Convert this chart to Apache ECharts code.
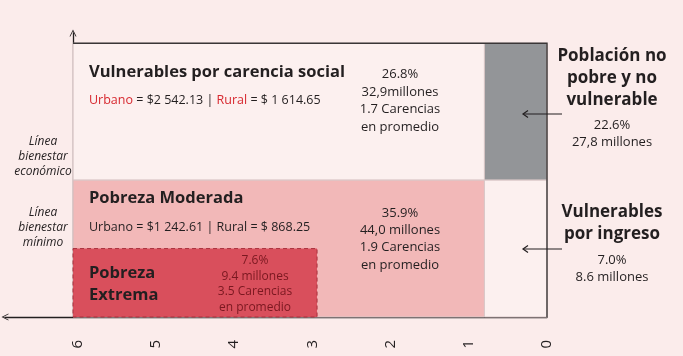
<!DOCTYPE html>
<html>
<head>
<meta charset="utf-8"/>
<title>Pobreza multidimensional</title>
<script src="https://cdn.jsdelivr.net/npm/echarts@6/dist/echarts.min.js"></script>
<style>
    html, body { margin: 0; padding: 0; background: #fbeceb; }
    #main { width: 683px; height: 356px; }
</style>
</head>
<body>
<div id="main"></div>
<script>
// eje x: número de carencias sociales (invertido), eje y: ingreso
var zonas = ['Vulnerables por carencia social', 'Población no pobre y no vulnerable', 'Pobreza Moderada', 'Vulnerables por ingreso', 'Pobreza Extrema'];
var carenciaDesde = [0.8, 0, 0.8, 0, 2.94];
var carenciaHasta = [6.06, 0.8, 6.06, 0.8, 6.06];
var ingresoDesde = [2, 2, 0, 0, 0];
var ingresoHasta = [4, 4, 2, 2, 1];
var porcentaje = ['26.8%', '22.6%', '35.9%', '7.0%', '7.6%'];
var millones = ['32,9millones', '27,8 millones', '44,0 millones', '8.6 millones', '9.4 millones'];
var carenciasProm = ['1.7', null, '1.9', null, '3.5'];
var lineaUrbano = ['$2 542.13', '$1 242.61'];
var lineaRural = ['$ 1 614.65', '$ 868.25'];

var colores = ['#fcf0ef', '#939598', '#f2b8b8', '#fcf0ef', '#d94f5c'];
var TXT = '#231f20';
var FONT = '"Open Sans", sans-serif';
var PUNTA = 'path://M0,10 L5,0 L10,10 L8.8,10 L5,2.6 L1.2,10 Z';

function bloque(i) {
    var s = porcentaje[i] + '\n' + millones[i];
    if (carenciasProm[i]) s += '\n' + carenciasProm[i] + ' Carencias\nen promedio';
    return s;
}

function texto(str, x, y, size, opts) {
    opts = opts || {};
    return {
        type: 'text', x: x, y: y, z: 50,
        style: {
            text: str,
            fontFamily: FONT,
            fontSize: size,
            fontWeight: opts.bold ? 'bold' : 'normal',
            fontStyle: opts.italic ? 'italic' : 'normal',
            fill: opts.color || TXT,
            align: opts.align || 'left',
            verticalAlign: 'top',
            lineHeight: opts.lh || size * 1.25,
            rich: opts.rich
        }
    };
}

function flecha(x1, x2, y) {
    return [
        { type: 'line', z: 50, shape: { x1: x1, y1: y, x2: x2, y2: y }, style: { stroke: TXT, lineWidth: 1.2 } },
        { type: 'polyline', z: 50, shape: { points: [[x2 + 5, y - 3.5], [x2, y], [x2 + 5, y + 3.5]] }, style: { stroke: TXT, lineWidth: 1.2, fill: null } }
    ];
}

var rich = {
    r: { fill: '#d7282f', fontFamily: FONT, fontSize: 12.5 },
    n: { fill: TXT, fontFamily: FONT, fontSize: 12.5 }
};

var chart = echarts.init(document.getElementById('main'));
chart.setOption({
    backgroundColor: '#fbeceb',
    animation: false,
    grid: { left: 5, right: 136, top: 33, bottom: 39 },
    xAxis: {
        type: 'value', inverse: true, min: 0, max: 6.93, interval: 1,
        axisLine: {
            show: true, onZero: false,
            symbol: [PUNTA, 'none'],
            symbolSize: [9, 7],
            lineStyle: { color: TXT, width: 1.3 }
        },
        axisTick: { show: false },
        splitLine: { show: false },
        axisLabel: {
            rotate: 90, margin: 23, fontSize: 15, color: TXT, fontFamily: FONT,
            formatter: function (v) { return Number.isInteger(v) ? String(v) : ''; }
        }
    },
    yAxis: {
        type: 'value', min: 0, max: 4.15, offset: -68,
        axisLine: {
            show: true, onZero: false,
            symbol: ['none', PUNTA],
            symbolSize: [9, 7],
            lineStyle: { color: TXT, width: 1.3 }
        },
        axisTick: { show: false },
        splitLine: { show: false },
        axisLabel: { show: false }
    },
    series: [{
        type: 'custom',
        z: 2,
        encode: { x: [0, 1], y: [2, 3] },
        data: zonas.map(function (z, i) {
            return [carenciaDesde[i], carenciaHasta[i], ingresoDesde[i], ingresoHasta[i]];
        }),
        renderItem: function (params, api) {
            var i = params.dataIndex;
            var a = api.coord([api.value(0), api.value(3)]);
            var b = api.coord([api.value(1), api.value(2)]);
            var extrema = i === 4;
            return {
                type: 'rect',
                shape: {
                    x: Math.min(a[0], b[0]), y: Math.min(a[1], b[1]),
                    width: Math.abs(b[0] - a[0]), height: Math.abs(b[1] - a[1])
                },
                style: {
                    fill: colores[i],
                    stroke: extrema ? '#a9313c' : '#d9c6c6',
                    lineWidth: 1,
                    lineDash: extrema ? [4, 3] : null
                }
            };
        }
    }, {
        // marco exterior
        type: 'custom',
        z: 3,
        encode: { x: [0, 1], y: [2, 3] },
        data: [[0, 6.06, 0, 4]],
        renderItem: function (params, api) {
            var a = api.coord([api.value(0), api.value(3)]);
            var b = api.coord([api.value(1), api.value(2)]);
            return {
                type: 'polyline',
                shape: { points: [[b[0], a[1]], [a[0], a[1]], [a[0], b[1]]] },
                style: { stroke: '#3a3637', lineWidth: 1.4, fill: null }
            };
        }
    }],
    graphic: [
        texto(zonas[0], 89, 62, 16.5, { bold: true }),
        texto('{r|Urbano}{n| = ' + lineaUrbano[0] + ' | }{r|Rural}{n| = ' + lineaRural[0] + '}', 89, 93, 12.5, { rich: rich }),
        texto(bloque(0), 400, 66, 13, { align: 'center', lh: 17.5 }),

        texto('Población no\npobre y no\nvulnerable', 612, 45, 17, { bold: true, align: 'center', lh: 22 }),
        texto(bloque(1), 612, 116.5, 13, { align: 'center', lh: 17 }),

        texto(zonas[2], 89, 188, 16.5, { bold: true }),
        texto('Urbano = ' + lineaUrbano[1] + ' | Rural = ' + lineaRural[1], 89, 220, 12.5),
        texto(bloque(2), 400, 204.5, 13, { align: 'center', lh: 17.3 }),

        texto('Pobreza\nExtrema', 89, 262, 16.5, { bold: true, lh: 22 }),
        texto(bloque(4), 255, 253, 12, { align: 'center', lh: 15.5, color: '#7a1820' }),

        texto('Vulnerables\npor ingreso', 612, 201, 17, { bold: true, align: 'center', lh: 22 }),
        texto(bloque(3), 612, 251.5, 13, { align: 'center', lh: 17 }),

        texto('Línea\nbienestar\neconómico', 43, 134.5, 12, { italic: true, align: 'center', lh: 15 }),
        texto('Línea\nbienestar\nmínimo', 43, 205.5, 12, { italic: true, align: 'center', lh: 15 })
    ].concat(flecha(562, 523, 114), flecha(562, 523, 249))
});
</script>
</body>
</html>
